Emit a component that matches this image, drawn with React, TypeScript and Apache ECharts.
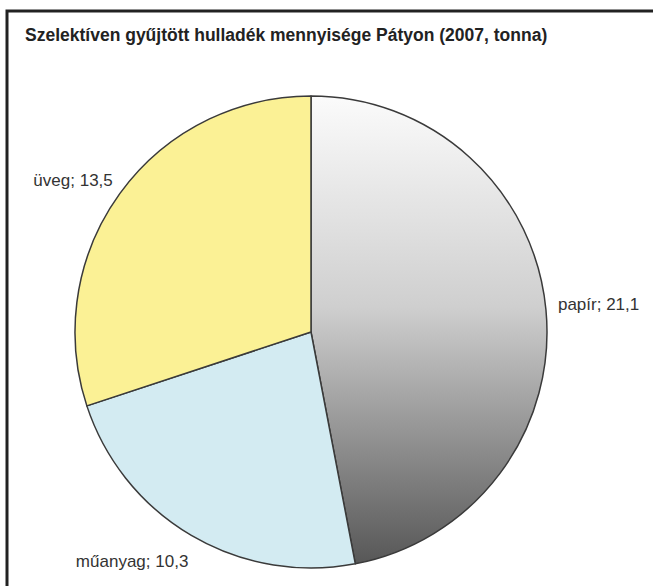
import React, { useEffect, useRef } from "react";
import * as echarts from "echarts";

const titleText = "Szelektíven gyűjtött hulladék mennyisége Pátyon (2007, tonna)";
const categories = ["papír", "műanyag", "üveg"];
const values = [21.1, 10.3, 13.5];
const labelNudges: number[][] = [[7, -5], [2, 26], [-2, -13]];

export default function App() {
  const ref = useRef<HTMLDivElement>(null);
  useEffect(() => {
    document.body.style.margin = "0";
    const chart = echarts.init(ref.current!, null, { renderer: "svg" });
    const colors = [
      new echarts.graphic.LinearGradient(0, 0, 0, 1, [
        { offset: 0, color: "#fbfbfb" },
        { offset: 0.45, color: "#cfcfcf" },
        { offset: 1, color: "#575757" },
      ]),
      "#d3ebf2",
      "#fbf195",
    ];
    chart.setOption({
      animation: false,
      backgroundColor: "#ffffff",
      title: {
        text: titleText,
        left: 25,
        top: 26,
        padding: 0,
        textStyle: {
          fontFamily: "Liberation Sans, Arial, sans-serif",
          fontSize: 17.5,
          fontWeight: "bold",
          color: "#222",
        },
      },
      graphic: [
        {
          type: "rect",
          shape: { x: 7, y: 11, width: 700, height: 700 },
          style: { fill: "none", stroke: "#222", lineWidth: 3 },
          silent: true,
        },
      ],
      series: [
        {
          type: "pie",
          center: [311, 332],
          radius: 236,
          startAngle: 90,
          clockwise: true,
          avoidLabelOverlap: false,
          data: categories.map((c, i) => ({
            name: c,
            value: values[i],
            itemStyle: { color: colors[i] },
          })),
          itemStyle: { borderColor: "#3a3a3a", borderWidth: 1.5 },
          label: {
            show: true,
            position: "outside",
            formatter: (p: any) => `${p.name}; ${String(p.value).replace(".", ",")}`,
            fontFamily: "Liberation Sans, Arial, sans-serif",
            fontSize: 17,
            color: "#333",
            distanceToLabelLine: 5,
          },
          labelLine: { show: false, length: 0, length2: 0 },
          labelLayout: (params: any) => ({
            dx: labelNudges[params.dataIndex][0],
            dy: labelNudges[params.dataIndex][1],
          }),
          emphasis: { disabled: true },
        },
      ],
    });
    return () => chart.dispose();
  }, []);
  return (
    <div
      ref={ref}
      style={{ position: "absolute", left: 0, top: 0, width: 653, height: 586 }}
    />
  );
}
